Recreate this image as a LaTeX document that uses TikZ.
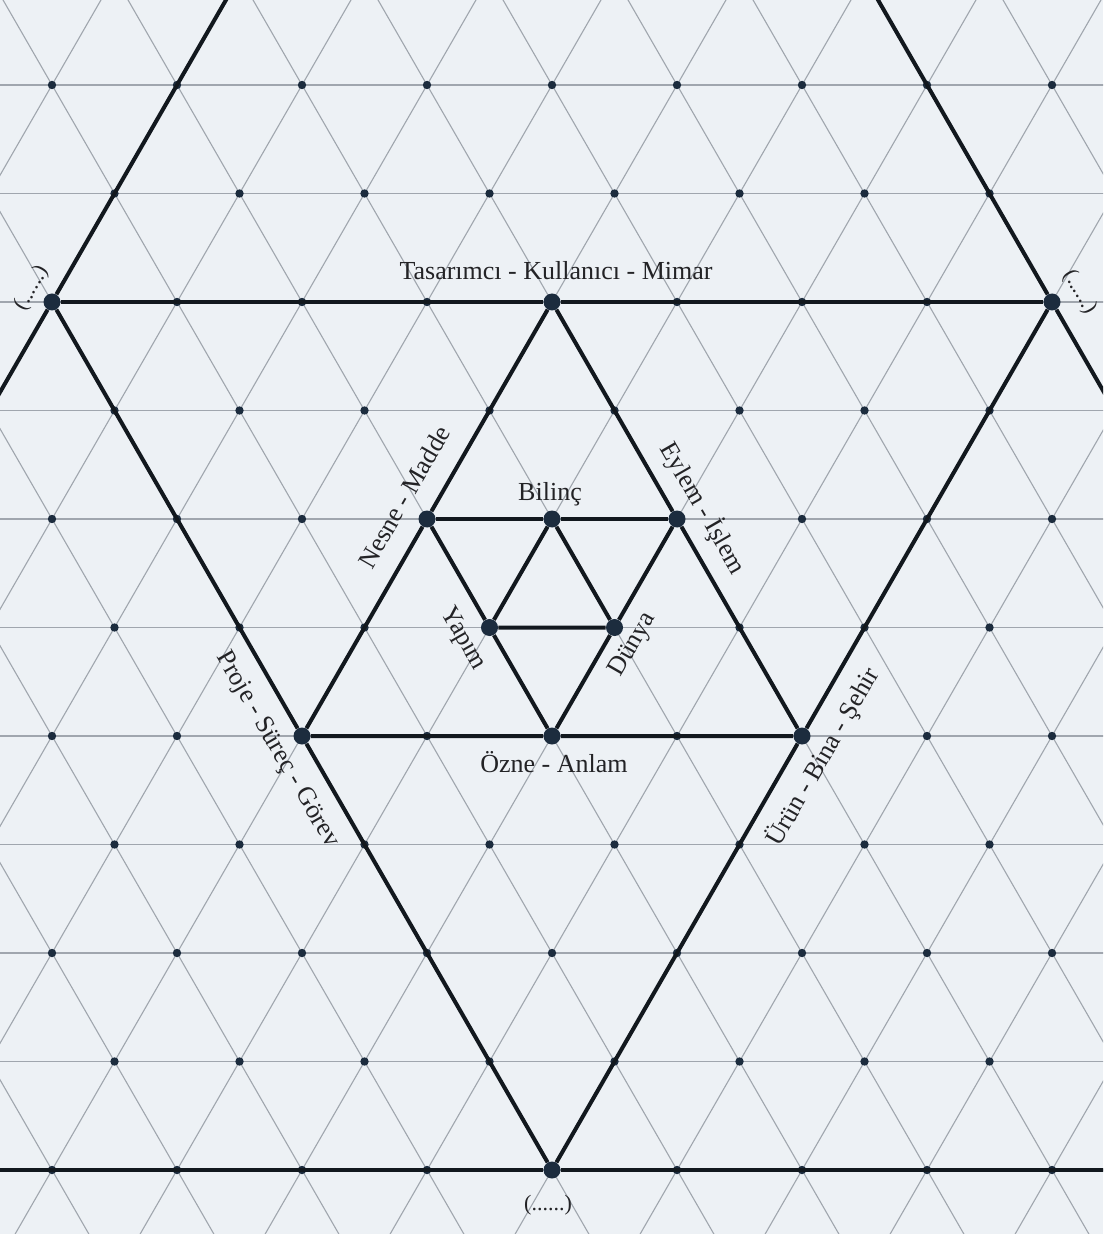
\documentclass[tikz,border=0pt]{standalone}
\usepackage{fontspec}
\setmainfont{Liberation Serif}
\definecolor{paper}{RGB}{237,241,245}
\definecolor{gridc}{RGB}{160,166,174}
\definecolor{dotc}{RGB}{28,44,62}
\definecolor{heavyc}{RGB}{18,24,30}
\definecolor{txt}{RGB}{35,35,38}
\begin{document}
\begin{tikzpicture}[x=0.5pt,y=-0.5pt,
  gridline/.style={draw=gridc,line width=0.55pt},
  heavy/.style={draw=heavyc,line width=2pt},
  bigdot/.style={circle,fill=dotc,inner sep=0pt,minimum size=8.5pt},
  smalldot/.style={fill=dotc},
  lbl/.style={text=txt,font=\fontsize{13pt}{15pt}\selectfont,inner sep=0pt},
  plbl/.style={text=txt,font=\fontsize{11pt}{13pt}\selectfont,inner sep=0pt}]
\useasboundingbox (0,0) rectangle (1103,1234);
\fill[paper] (0,0) rectangle (1103,1234);
\begin{scope}
\clip (0,0) rectangle (1103,1234);
% triangular grid
\foreach \k in {-3,...,9} \draw[gridline] (-20,{302+108.5*\k}) -- (1123,{302+108.5*\k});
\foreach \m in {-12,...,12} {
  \draw[gridline] ({552+125*\m-250},-132) -- ({552+125*\m+625},1387);
  \draw[gridline] ({552+125*\m-625},1387) -- ({552+125*\m+250},-132);
}
\foreach \k in {-2,0,2,4,6,8} \foreach \m in {-5,...,5}
  \fill[smalldot] ({552+125*\m},{302+108.5*\k}) circle[radius=2.1pt];
\foreach \k in {-3,-1,1,3,5,7,9} \foreach \m in {-5,...,5}
  \fill[smalldot] ({614.5+125*\m},{302+108.5*\k}) circle[radius=2.1pt];

% main vertices
\node[bigdot] (TL) at (52,302) {};
\node[bigdot] (T)  at (552,302) {};
\node[bigdot] (TR) at (1052,302) {};
\node[bigdot] (N)  at (427,519) {};
\node[bigdot] (Bi) at (552,519) {};
\node[bigdot] (E)  at (677,519) {};
\node[bigdot] (Y)  at (489.5,627.5) {};
\node[bigdot] (D)  at (614.5,627.5) {};
\node[bigdot] (P)  at (302,736) {};
\node[bigdot] (O)  at (552,736) {};
\node[bigdot] (U)  at (802,736) {};
\node[bigdot] (Bt) at (552,1170) {};
\coordinate (TLup) at (239.5,-23.5);
\coordinate (TLdn) at (-10.5,410.5);
\coordinate (TRup) at (864.5,-23.5);
\coordinate (TRdn) at (1114.5,410.5);
\coordinate (BL) at (-20,1170);
\coordinate (BR) at (1123,1170);

% heavy lines
\draw[heavy] (TLdn) -- (TL) -- (TLup);
\draw[heavy] (TRup) -- (TR) -- (TRdn);
\draw[heavy] (TL) -- (T) -- (TR);
\draw[heavy] (TL) -- (P) -- (Bt) -- (U) -- (TR);
\draw[heavy] (BL) -- (Bt) -- (BR);
\draw[heavy] (T) -- (N) -- (P) -- (O) -- (U) -- (E) -- (T);
\draw[heavy] (N) -- (Bi) -- (E);
\draw[heavy] (N) -- (Y) -- (O) -- (D) -- (E);
\draw[heavy] (Bi) -- (Y) -- (D) -- (Bi);
\end{scope}

% labels
\node[lbl] (lTKM) at (556,271) {Tasarımcı - Kullanıcı - Mimar};
\node[lbl] (lBil) at (550,494) {Bilinç};
\node[lbl] (lOA) at (554,762) {Özne - Anlam};
\node[lbl,rotate=60] (lNM) at (404,497) {Nesne - Madde};
\node[lbl,rotate=-60] (lEI) at (703,508) {Eylem - İşlem};
\node[lbl,rotate=-60] (lYap) at (463,639) {Yapım};
\node[lbl,rotate=60] (lDun) at (633,645) {Dünya};
\node[lbl,rotate=-60] (lPSG) at (277,750) {Proje - Süreç - Görev};
\node[lbl,rotate=60] (lUBS) at (823,757) {Ürün - Bina - Şehir};
\node[plbl] (lBot) at (548,1205) {(......)};
\node[plbl,rotate=60] (lTLc) at (32,288) {(......)};
\node[plbl,rotate=-60] (lTRc) at (1080,292) {(......)};
\end{tikzpicture}
\end{document}
